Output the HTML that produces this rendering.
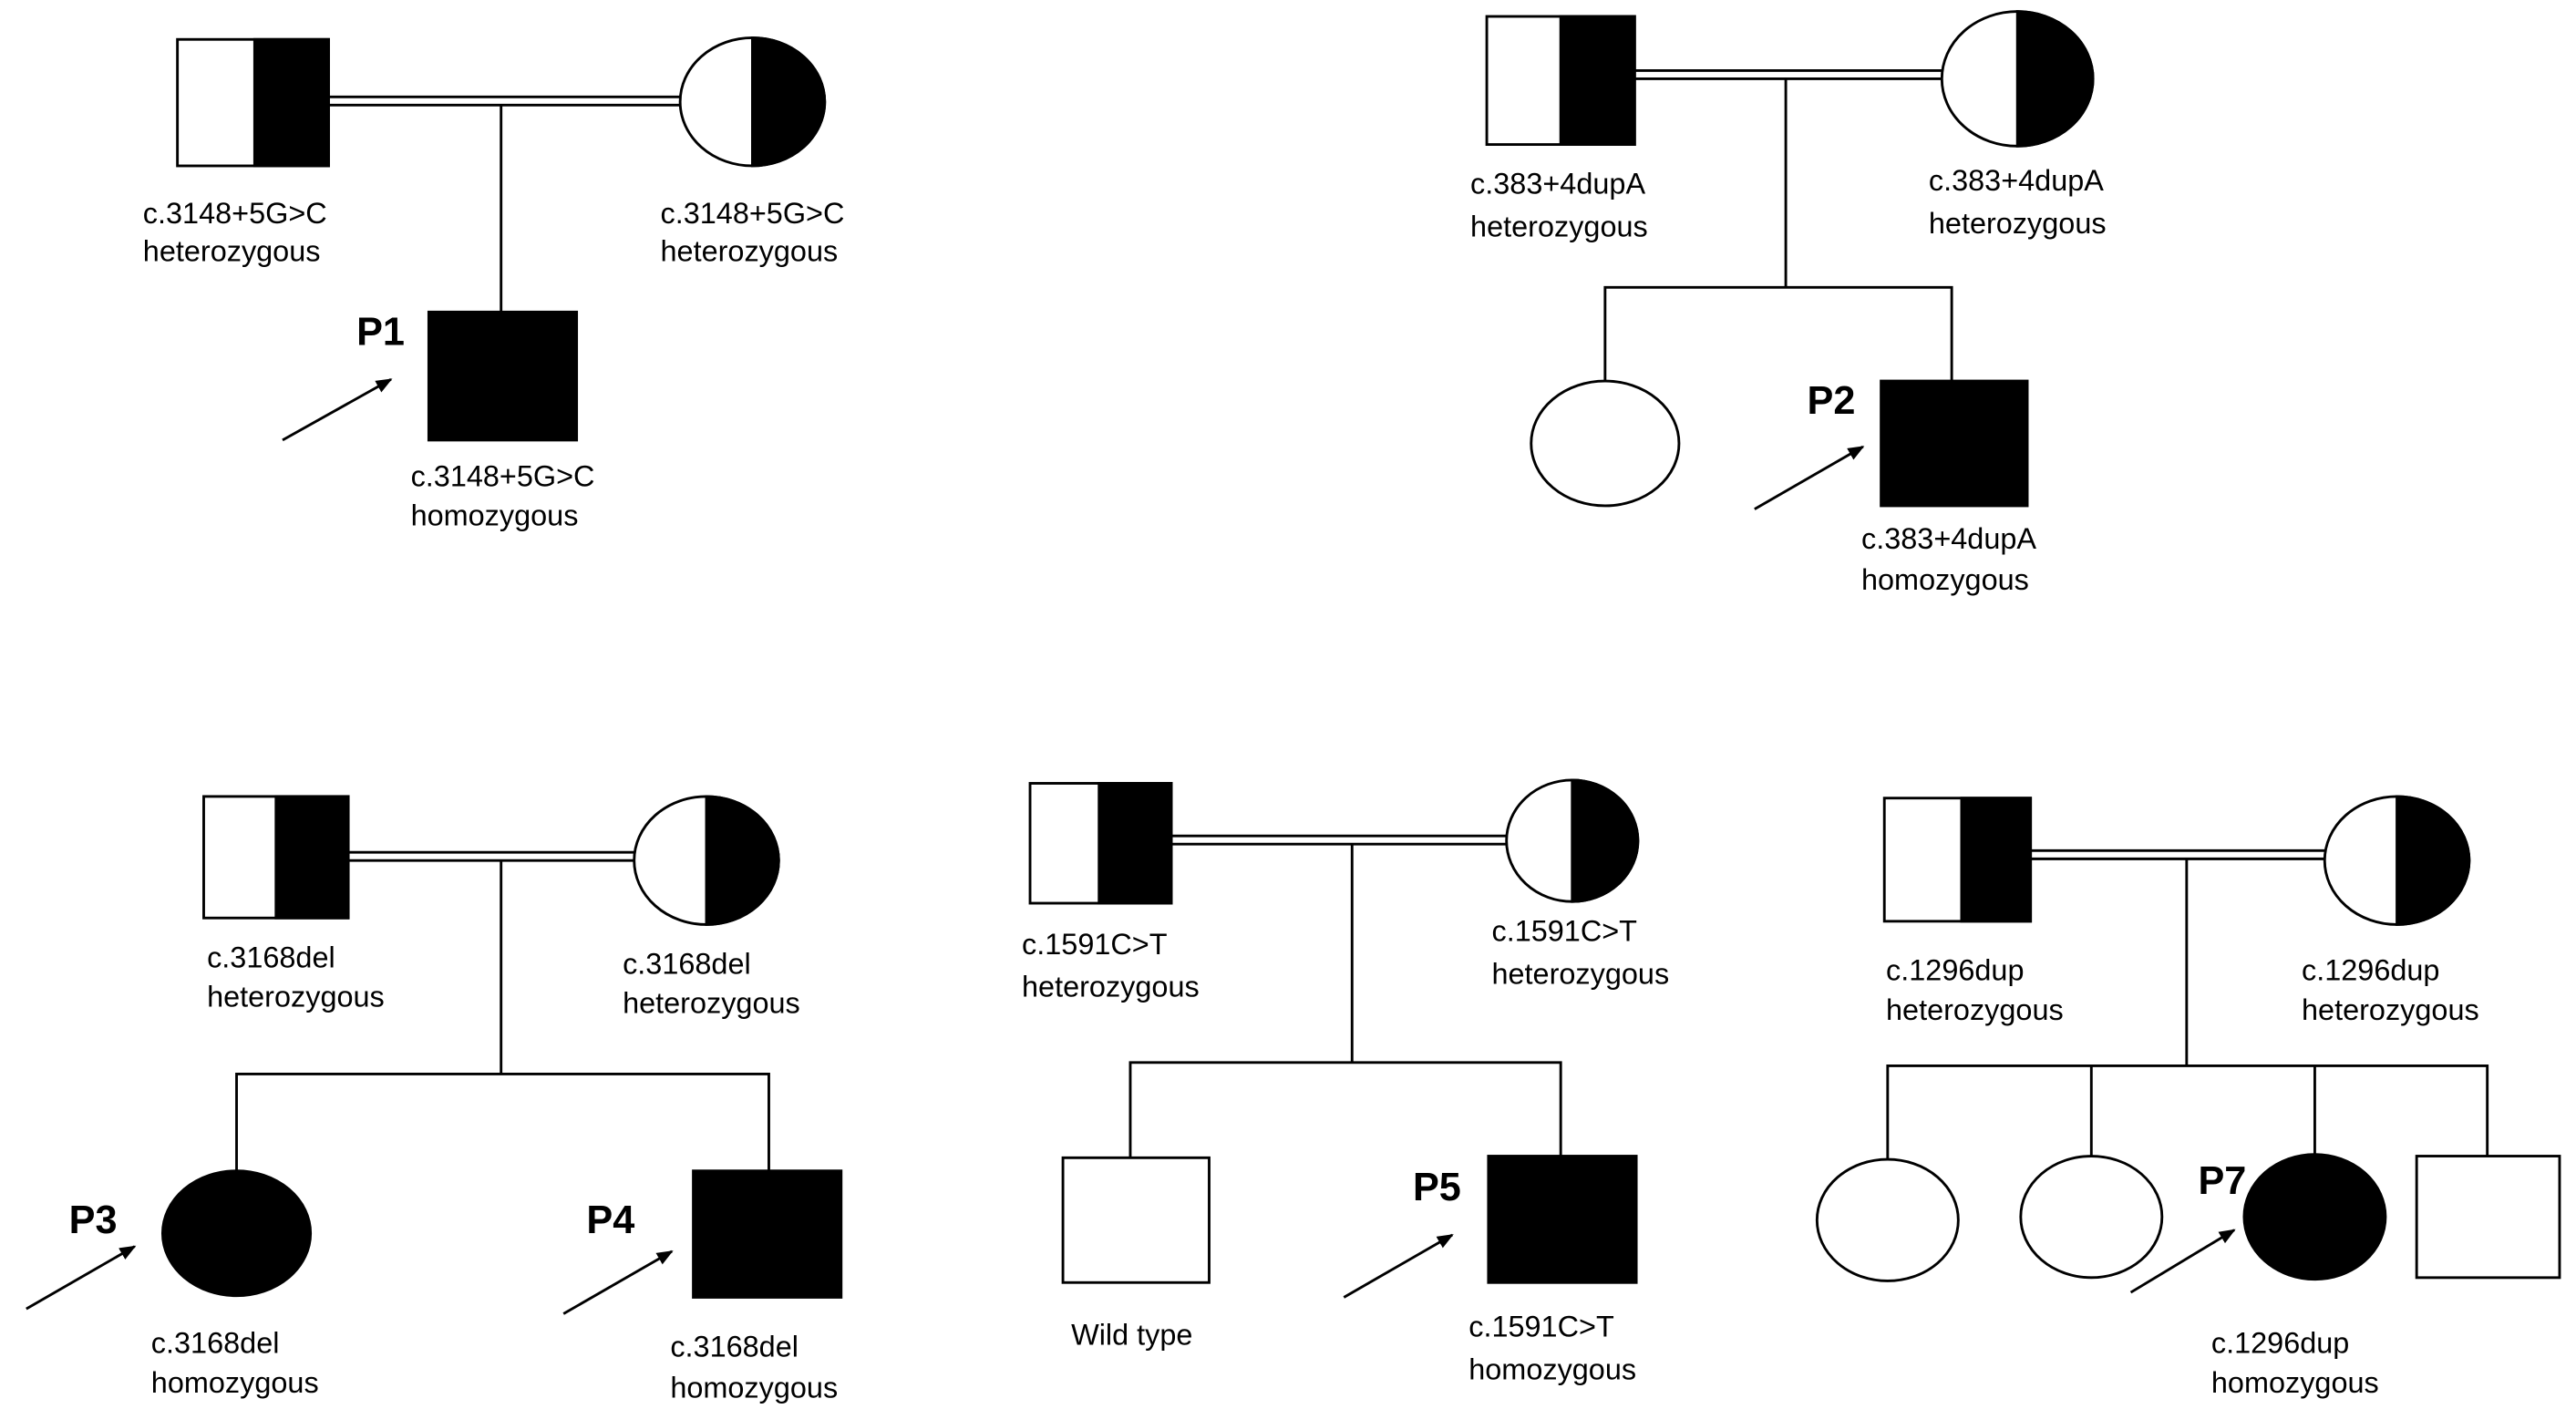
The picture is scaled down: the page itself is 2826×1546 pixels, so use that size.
<!DOCTYPE html>
<html><head><meta charset="utf-8"><style>
html,body{margin:0;padding:0;background:#fff;}
svg{display:block;}
text{font-family:"Liberation Sans",sans-serif;font-size:18px;fill:#000;}
.b{font-weight:bold;font-size:24px;}
</style></head><body>
<svg width="2826" height="1546" viewBox="0 0 1568 858" preserveAspectRatio="none" xmlns="http://www.w3.org/2000/svg">
<defs><marker id="ah" markerWidth="10" markerHeight="8" refX="9" refY="4" orient="auto" markerUnits="userSpaceOnUse"><path d="M0,0 L10,4 L0,8 Z" fill="#000"/></marker></defs>
<g stroke="#000" stroke-width="1.6" fill="none">
<rect x="108" y="24" width="92" height="77" fill="#fff"/><rect x="155" y="24" width="45" height="77" fill="#000"/>
<ellipse cx="458" cy="62" rx="44" ry="39" fill="#fff"/><path d="M458,23 A44,39 0 0 1 458,101 Z" fill="#000"/>
<line x1="200" y1="59" x2="414" y2="59"/><line x1="200" y1="64" x2="414" y2="64"/>
<line x1="305" y1="64" x2="305" y2="190"/>
<rect x="261" y="190" width="90" height="78" fill="#000"/>
<line x1="172" y1="268" x2="238" y2="231" marker-end="url(#ah)"/>
<rect x="905" y="10" width="90" height="78" fill="#fff"/><rect x="950" y="10" width="45" height="78" fill="#000"/>
<ellipse cx="1228" cy="48" rx="46" ry="41" fill="#fff"/><path d="M1228,7 A46,41 0 0 1 1228,89 Z" fill="#000"/>
<line x1="995" y1="43" x2="1182" y2="43"/><line x1="995" y1="48" x2="1182" y2="48"/>
<line x1="1087" y1="48" x2="1087" y2="175"/>
<polyline points="977,232 977,175 1188,175 1188,232"/>
<ellipse cx="977" cy="270" rx="45" ry="38" fill="#fff"/>
<rect x="1145" y="232" width="89" height="76" fill="#000"/>
<line x1="1068" y1="310" x2="1134" y2="272" marker-end="url(#ah)"/>
<rect x="124" y="485" width="88" height="74" fill="#fff"/><rect x="168" y="485" width="44" height="74" fill="#000"/>
<ellipse cx="430" cy="524" rx="44" ry="39" fill="#fff"/><path d="M430,485 A44,39 0 0 1 430,563 Z" fill="#000"/>
<line x1="212" y1="519" x2="386" y2="519"/><line x1="212" y1="524" x2="386" y2="524"/>
<line x1="305" y1="524" x2="305" y2="654"/>
<polyline points="144,714 144,654 468,654 468,713"/>
<ellipse cx="144" cy="751" rx="45" ry="38" fill="#000"/>
<rect x="422" y="713" width="90" height="77" fill="#000"/>
<line x1="16" y1="797" x2="82" y2="759" marker-end="url(#ah)"/>
<line x1="343" y1="800" x2="409" y2="762" marker-end="url(#ah)"/>
<rect x="627" y="477" width="86" height="73" fill="#fff"/><rect x="669" y="477" width="44" height="73" fill="#000"/>
<ellipse cx="957" cy="512" rx="40" ry="37" fill="#fff"/><path d="M957,475 A40,37 0 0 1 957,549 Z" fill="#000"/>
<line x1="713" y1="509" x2="917" y2="509"/><line x1="713" y1="514" x2="917" y2="514"/>
<line x1="823" y1="514" x2="823" y2="647"/>
<polyline points="688,705 688,647 950,647 950,704"/>
<rect x="647" y="705" width="89" height="76" fill="#fff"/>
<rect x="906" y="704" width="90" height="77" fill="#000"/>
<line x1="818" y1="790" x2="884" y2="752" marker-end="url(#ah)"/>
<rect x="1147" y="486" width="89" height="75" fill="#fff"/><rect x="1194" y="486" width="42" height="75" fill="#000"/>
<ellipse cx="1459" cy="524" rx="44" ry="39" fill="#fff"/><path d="M1459,485 A44,39 0 0 1 1459,563 Z" fill="#000"/>
<line x1="1236" y1="518" x2="1415" y2="518"/><line x1="1236" y1="523" x2="1415" y2="523"/>
<line x1="1331" y1="523" x2="1331" y2="649"/>
<polyline points="1149,706 1149,649 1514,649 1514,704"/>
<line x1="1273" y1="649" x2="1273" y2="704"/>
<line x1="1409" y1="649" x2="1409" y2="703"/>
<ellipse cx="1149" cy="743" rx="43" ry="37" fill="#fff"/>
<ellipse cx="1273" cy="741" rx="43" ry="37" fill="#fff"/>
<ellipse cx="1409" cy="741" rx="43" ry="38" fill="#000"/>
<rect x="1471" y="704" width="87" height="74" fill="#fff"/>
<line x1="1297" y1="787" x2="1360" y2="749" marker-end="url(#ah)"/>
</g>
<g>
<text x="87" y="136">c.3148+5G&gt;C</text><text x="87" y="159">heterozygous</text>
<text x="402" y="136">c.3148+5G&gt;C</text><text x="402" y="159">heterozygous</text>
<text x="250" y="296">c.3148+5G&gt;C</text><text x="250" y="320">homozygous</text>
<text class="b" x="217" y="210">P1</text>
<text x="895" y="118">c.383+4dupA</text><text x="895" y="144">heterozygous</text>
<text x="1174" y="116">c.383+4dupA</text><text x="1174" y="142">heterozygous</text>
<text x="1133" y="334">c.383+4dupA</text><text x="1133" y="359">homozygous</text>
<text class="b" x="1100" y="252">P2</text>
<text x="126" y="589">c.3168del</text><text x="126" y="613">heterozygous</text>
<text x="379" y="593">c.3168del</text><text x="379" y="617">heterozygous</text>
<text x="92" y="824">c.3168del</text><text x="92" y="848">homozygous</text>
<text x="408" y="826">c.3168del</text><text x="408" y="851">homozygous</text>
<text class="b" x="42" y="751">P3</text>
<text class="b" x="357" y="751">P4</text>
<text x="622" y="581">c.1591C&gt;T</text><text x="622" y="607">heterozygous</text>
<text x="908" y="573">c.1591C&gt;T</text><text x="908" y="599">heterozygous</text>
<text x="652" y="819">Wild type</text>
<text x="894" y="814">c.1591C&gt;T</text><text x="894" y="840">homozygous</text>
<text class="b" x="860" y="731">P5</text>
<text x="1148" y="597">c.1296dup</text><text x="1148" y="621">heterozygous</text>
<text x="1401" y="597">c.1296dup</text><text x="1401" y="621">heterozygous</text>
<text x="1346" y="824">c.1296dup</text><text x="1346" y="848">homozygous</text>
<text class="b" x="1338" y="727">P7</text>
</g>
</svg>
</body></html>
